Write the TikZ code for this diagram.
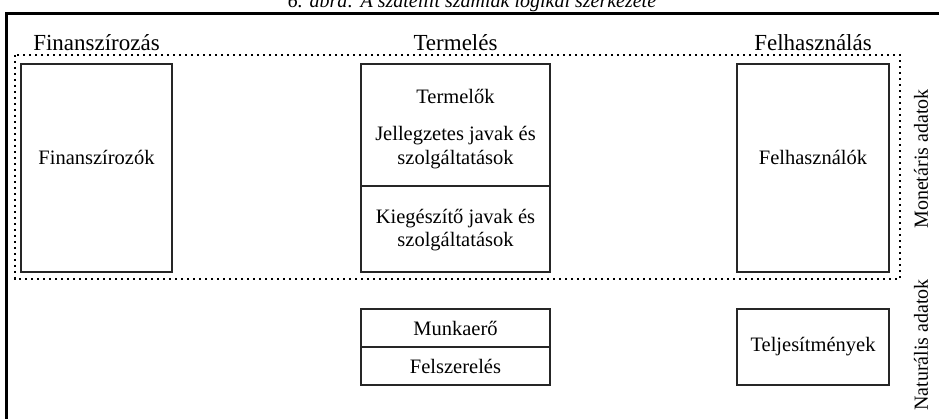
\documentclass[tikz,border=0pt]{standalone}
\usepackage{fontspec}
\setmainfont{Liberation Serif}
\begin{document}
\begin{tikzpicture}[x=1pt,y=-1pt,
  box/.style={draw=black!85, line width=1.1pt, inner sep=0pt},
  boxtxt/.style={font=\fontsize{20.5}{23.5}\selectfont, align=center, inner sep=0pt},
  head/.style={font=\fontsize{23}{25}\selectfont, anchor=base, inner sep=0pt},
  side/.style={font=\fontsize{20}{22}\selectfont, rotate=90, inner sep=0pt},
  frameline/.style={line width=2.4pt, line join=miter},
  dotline/.style={line width=1.8pt, dash pattern=on 2.4pt off 3.6pt}]
\useasboundingbox (0,0) rectangle (939,419);
\clip (0,0) rectangle (939,419);
% caption (cut off at top)
\node[font=\itshape\fontsize{20}{22}\selectfont, anchor=base, inner sep=0pt] (cap) at (472,8) {6. ábra: A szatellit számlák logikai szerkezete};
% frame
\coordinate (fbl) at (6.5,425);
\coordinate (ftl) at (6.5,13.5);
\coordinate (ftr) at (945,13.5);
\draw[frameline] (fbl) -- (ftl) -- (ftr);
% dotted monetary area
\coordinate (d1) at (15,55);
\coordinate (d2) at (900,279);
\draw[dotline] (d1) rectangle (d2);
% headers
\node[head] (h1) at (96.5,51) {Finanszírozás};
\node[head] (h2) at (455.5,51) {Termelés};
\node[head] (h3) at (813,51) {Felhasználás};
% boxes
\node[box, minimum width=151pt, minimum height=208pt] (fin) at (96.5,168) {};
\node[boxtxt, anchor=base] (fintxt) at ([yshift=3pt]fin.center) {Finanszírozók};
\node[box, minimum width=189pt, minimum height=122pt] (prod) at (455.5,125) {};
\node[boxtxt] (prodtxt) at ([yshift=-4pt]prod.center) {Termelők\\[14pt]Jellegzetes javak és\\szolgáltatások};
\node[box, minimum width=189pt, minimum height=86pt] (prodb) at (455.5,229) {};
\node[boxtxt] (prodbtxt) at ([yshift=-1pt]prodb.center) {Kiegészítő javak és\\szolgáltatások};
\node[box, minimum width=152pt, minimum height=208pt] (use) at (813,168) {};
\node[boxtxt, anchor=base] (usetxt) at ([yshift=3pt]use.center) {Felhasználók};
\node[box, minimum width=189pt, minimum height=38pt, boxtxt, draw=black!85, line width=1.1pt] (mu) at (455.5,328) {Munkaerő};
\node[box, minimum width=189pt, minimum height=38pt, boxtxt, draw=black!85, line width=1.1pt] (fe) at (455.5,366) {Felszerelés};
\node[box, minimum width=152pt, minimum height=76pt, boxtxt, draw=black!85, line width=1.1pt] (telj) at (813,347) {Teljesítmények};
% side labels
\node[side] (mon) at (921,159) {Monetáris adatok};
\node[side] (nat) at (921,345) {Naturális adatok};
\end{tikzpicture}
\end{document}
